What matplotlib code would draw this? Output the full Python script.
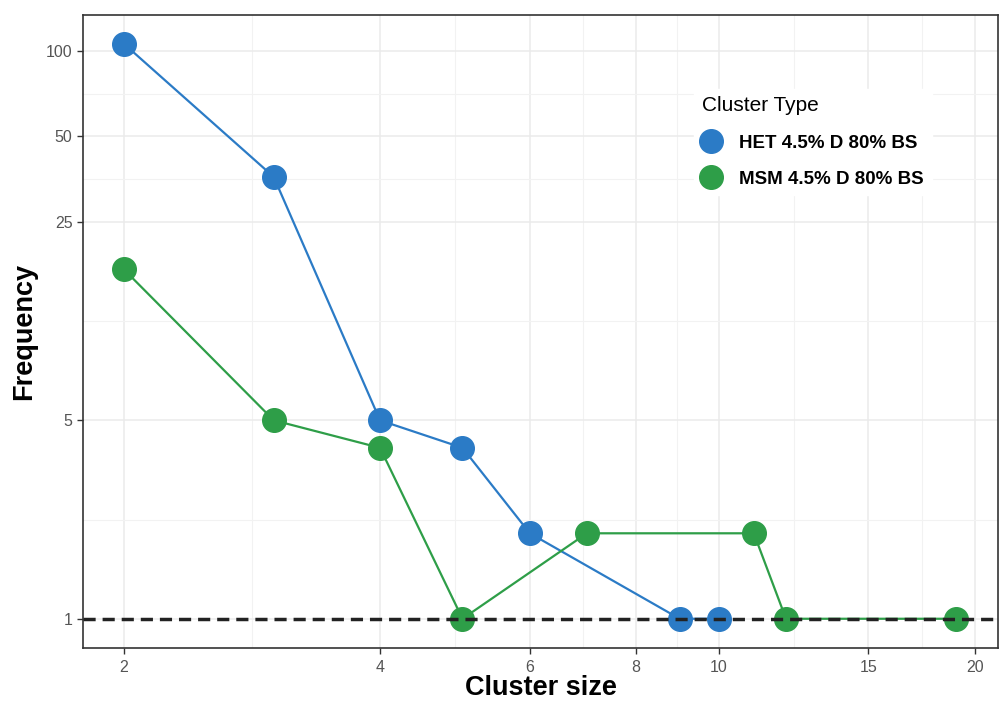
import matplotlib.pyplot as plt
from matplotlib.ticker import FixedLocator, NullFormatter
import numpy as np

plt.rcParams['font.family'] = ['Liberation Sans', 'DejaVu Sans']

# cluster size distributions
het_size = [2, 3, 4, 5, 6, 9, 10]
het_freq = [106, 36, 5, 4, 2, 1, 1]
msm_size = [2, 3, 4, 5, 7, 11, 12, 19]
msm_freq = [17, 5, 4, 1, 2, 2, 1, 1]

labels = ['HET 4.5% D 80% BS', 'MSM 4.5% D 80% BS']
colors = ['#2B7BC6', '#2E9E48']

x_ticks = [2, 4, 6, 8, 10, 15, 20]
y_ticks = [1, 5, 25, 50, 100]

fig = plt.figure(figsize=(9.99, 7.08), dpi=100)
ax = fig.add_axes([0.083, 0.085, 0.916, 0.894])
ax.set_xscale('log')
ax.set_yscale('log')

ax.plot(het_size, het_freq, '-o', color=colors[0], lw=1.6, ms=17,
        label=labels[0], zorder=3)
ax.plot(msm_size, msm_freq, '-o', color=colors[1], lw=1.6, ms=17,
        label=labels[1], zorder=3)
ax.axhline(1, color='#222222', ls=(0, (3.5, 2.0)), lw=2.5, zorder=4)

ax.set_xlim(1.79, 21.3)
ax.set_ylim(0.79, 134)

# major ticks plus ggplot-style minor grid halfway between them (log space)
ax.xaxis.set_major_locator(FixedLocator(x_ticks))
ax.yaxis.set_major_locator(FixedLocator(y_ticks))
ax.set_xticklabels([str(t) for t in x_ticks])
ax.set_yticklabels([str(t) for t in y_ticks])
xm = [np.sqrt(a * b) for a, b in zip(x_ticks[:-1], x_ticks[1:])]
ym = [np.sqrt(a * b) for a, b in zip(y_ticks[:-1], y_ticks[1:])]
ax.xaxis.set_minor_locator(FixedLocator(xm))
ax.yaxis.set_minor_locator(FixedLocator(ym))
ax.xaxis.set_minor_formatter(NullFormatter())
ax.yaxis.set_minor_formatter(NullFormatter())

ax.grid(which='major', color='#EBEBEB', lw=1.1, zorder=0)
ax.grid(which='minor', color='#F2F2F2', lw=0.8, zorder=0)
ax.set_axisbelow(True)
ax.tick_params(which='major', length=4, width=1, color='#333333',
               labelcolor='#555555', labelsize=11.5)
ax.tick_params(axis='x', pad=5)
ax.tick_params(which='minor', length=0)

for spine in ax.spines.values():
    spine.set_color('#333333')
    spine.set_linewidth(1.2)

ax.set_xlabel('Cluster size', fontsize=19.5, fontweight='bold', labelpad=0)
ax.set_ylabel('Frequency', fontsize=19.5, fontweight='bold', labelpad=6)

leg = ax.legend(title='Cluster Type', loc='upper left',
                bbox_to_anchor=(0.658, 0.898), frameon=True,
                prop={'weight': 'bold', 'size': 13.5}, title_fontsize=15,
                markerscale=1.0, handlelength=1.0, handletextpad=1.0,
                labelspacing=1.0, borderpad=0.4)
leg._legend_box.align = 'left'
leg._legend_box.sep = 14
leg.get_frame().set_facecolor('white')
leg.get_frame().set_edgecolor('white')
leg.get_frame().set_alpha(1)
for h in leg.legend_handles:
    h.set_linestyle('none')

fig.savefig('out.png', dpi=100)
